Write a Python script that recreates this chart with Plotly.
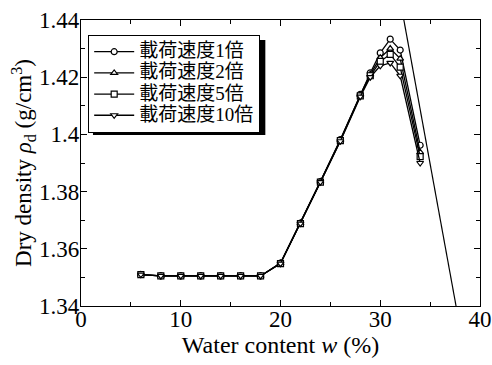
import plotly.graph_objects as go

# Water content (%)
w = [6, 8, 10, 12, 14, 16, 18, 20, 22, 24, 26, 28, 29, 30, 31, 32, 34]

# Dry density (g/cm3) for each loading rate
rho_1x = [1.3510, 1.3505, 1.3505, 1.3505, 1.3505, 1.3505, 1.3505, 1.3550, 1.3690, 1.3835,
          1.3982, 1.4140, 1.4215, 1.4285, 1.4333, 1.4295, 1.3962]
rho_2x = [1.3510, 1.3505, 1.3505, 1.3505, 1.3505, 1.3505, 1.3505, 1.3550, 1.3690, 1.3835,
          1.3980, 1.4138, 1.4210, 1.4268, 1.4300, 1.4265, 1.3938]
rho_5x = [1.3510, 1.3505, 1.3505, 1.3505, 1.3505, 1.3505, 1.3505, 1.3548, 1.3688, 1.3833,
          1.3978, 1.4135, 1.4205, 1.4255, 1.4280, 1.4235, 1.3922]
rho_10x = [1.3510, 1.3505, 1.3505, 1.3505, 1.3505, 1.3505, 1.3505, 1.3548, 1.3688, 1.3833,
           1.3976, 1.4132, 1.4200, 1.4240, 1.4250, 1.4205, 1.3900]

series_names = ["載荷速度1倍", "載荷速度2倍", "載荷速度5倍", "載荷速度10倍"]
series_symbols = ["circle", "triangle-up", "square", "triangle-down"]

# Zero air void (saturation) line end points
sat_w = [32.0, 37.6]
sat_rho = [1.447, 1.34]

fig = go.Figure()

for name, sym, ys in zip(series_names, series_symbols, [rho_1x, rho_2x, rho_5x, rho_10x]):
    fig.add_trace(go.Scatter(
        x=w, y=ys, mode="lines+markers",
        name='<span style="font-size:19px">' + name + '</span>',
        line=dict(color="black", width=1.3),
        marker=dict(symbol=sym, size=6, color="white",
                    line=dict(color="black", width=1.2)),
    ))

# saturation line
fig.add_shape(type="line", xref="x", yref="y",
              x0=sat_w[0], y0=sat_rho[0], x1=sat_w[1], y1=sat_rho[1],
              line=dict(color="black", width=1.2), layer="above")

font_main = "Liberation Serif, Times New Roman, Noto Sans CJK JP, serif"

axis_common = dict(
    showline=True, linecolor="black", linewidth=1.2, mirror="ticks",
    ticks="inside", ticklen=6, tickwidth=1.2, tickcolor="black",
    showgrid=False, zeroline=False, automargin=False,
    tickfont=dict(family=font_main, size=23, color="black"),
)

fig.update_xaxes(range=[0, 40], dtick=10, ticklabelstandoff=-8,
                 minor=dict(dtick=5, ticks="inside", ticklen=4, tickwidth=1.2, tickcolor="black"),
                 title=dict(text="Water content <i>w</i> (%)",
                            font=dict(family=font_main, size=24, color="black"), standoff=4),
                 **axis_common)
fig.update_yaxes(range=[1.34, 1.44], dtick=0.02, ticklabelstandoff=-4,
                 minor=dict(dtick=0.01, ticks="inside", ticklen=4, tickwidth=1.2, tickcolor="black"),
                 title=dict(text="Dry density <i>ρ</i><sub>d</sub> (g/cm<sup>3</sup>)" + "\u00a0" * 8,
                            font=dict(family=font_main, size=23, color="black"), standoff=0),
                 **axis_common)

# legend drop shadow
fig.add_shape(type="rect", xref="paper", yref="paper",
              x0=0.03, x1=0.462, y0=0.598, y1=0.93,
              fillcolor="black", line=dict(width=0), layer="above")

fig.update_layout(
    width=492, height=365,
    margin=dict(l=81, r=12, t=20, b=59),
    paper_bgcolor="white", plot_bgcolor="white",
    font=dict(family=font_main, color="black"),
    legend=dict(x=0.0175, y=0.948, xanchor="left", yanchor="top",
                bgcolor="white", bordercolor="black", borderwidth=1.2,
                font=dict(family=font_main, size=14, color="black"),
                itemwidth=40, tracegroupgap=0,
                traceorder="normal"),
)

fig.write_html("out.html")
